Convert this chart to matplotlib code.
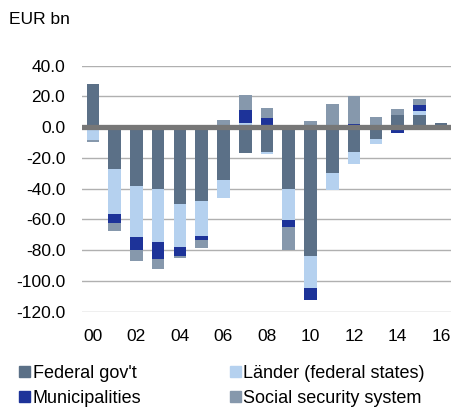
import numpy as np
import matplotlib
matplotlib.use("Agg")
import matplotlib.pyplot as plt
from matplotlib.patches import Patch

plt.rcParams['font.family'] = ['Liberation Sans', 'DejaVu Sans']

# general government balance by sub-sector, EUR bn, 2000-2016
years = list(range(2000, 2017))
tick_labels = ['00', '02', '04', '06', '08', '10', '12', '14', '16']

federal = [27.8, -27.2, -38.2, -40.3, -50.0, -47.9, -34.3, -17.0, -16.0,
           -40.3, -83.9, -29.6, -16.4, -7.8, 8.2, 7.8, 3.0]
laender = [-8.5, -29.3, -33.2, -34.3, -28.0, -23.1, -11.7, 2.5, -1.7,
           -19.9, -20.5, -11.2, -7.3, -3.2, 0.0, 2.6, 0.0]
municipalities = [0.0, -5.8, -8.2, -10.8, -5.6, -2.4, 0.0, 8.5, 6.0,
                  -4.5, -8.0, 0.0, 2.0, 0.0, -3.8, 3.9, -2.0]
social = [-1.0, -5.4, -7.3, -7.1, -1.4, -5.1, 4.7, 10.2, 6.7,
          -14.9, 3.9, 14.9, 18.3, 6.7, 3.4, 4.3, 0.0]

names = ["Federal gov't", "Länder (federal states)", "Municipalities",
         "Social security system"]
colors = ['#5b7087', '#b5d1ef', '#1d3399', '#8698ac']

fig = plt.figure(figsize=(4.52, 4.08), dpi=100)
ax = fig.add_axes([0.1814, 0.236, 0.8186, 0.603])

x = np.arange(len(years))
pos_bottom = np.zeros(len(years))
neg_bottom = np.zeros(len(years))
for vals, col in zip([federal, laender, municipalities, social], colors):
    v = np.array(vals)
    bottom = np.where(v >= 0, pos_bottom, neg_bottom)
    ax.bar(x, v, 0.58, bottom=bottom, color=col, zorder=2)
    pos_bottom += np.where(v > 0, v, 0)
    neg_bottom += np.where(v < 0, v, 0)

ax.axhline(0, color='#777777', lw=3.8, zorder=3)

ax.set_xlim(-0.5, 16.5)
ax.set_ylim(-120, 40)
ax.set_yticks(np.arange(-120, 41, 20))
ax.set_yticklabels(['%.1f' % t for t in np.arange(-120, 41, 20)], fontsize=12.5)
ax.set_xticks(np.arange(0, 17, 2))
ax.set_xticklabels(tick_labels, fontsize=12.5)
ax.tick_params(axis='x', length=0, pad=12.5)
ax.tick_params(axis='y', length=0, pad=12)
ax.yaxis.grid(True, color='#b0b0b0', lw=1.0, zorder=0)
ax.set_axisbelow(True)
for s in ax.spines.values():
    s.set_visible(False)

fig.text(0.02, 0.951, 'EUR bn', fontsize=12.5, va='center')

handles = [Patch(color=colors[0]), Patch(color=colors[2]),
           Patch(color=colors[1]), Patch(color=colors[3])]
labels = [names[0], names[2], names[1], names[3]]
fig.legend(handles, labels, ncol=2, loc='upper left',
           bbox_to_anchor=(0.0427, 0.106), frameon=False, fontsize=13,
           handlelength=0.6, handleheight=0.55, handletextpad=0.15,
           columnspacing=4.9, labelspacing=0.45, borderaxespad=0,
           borderpad=0)

fig.savefig('out.png', dpi=100)
